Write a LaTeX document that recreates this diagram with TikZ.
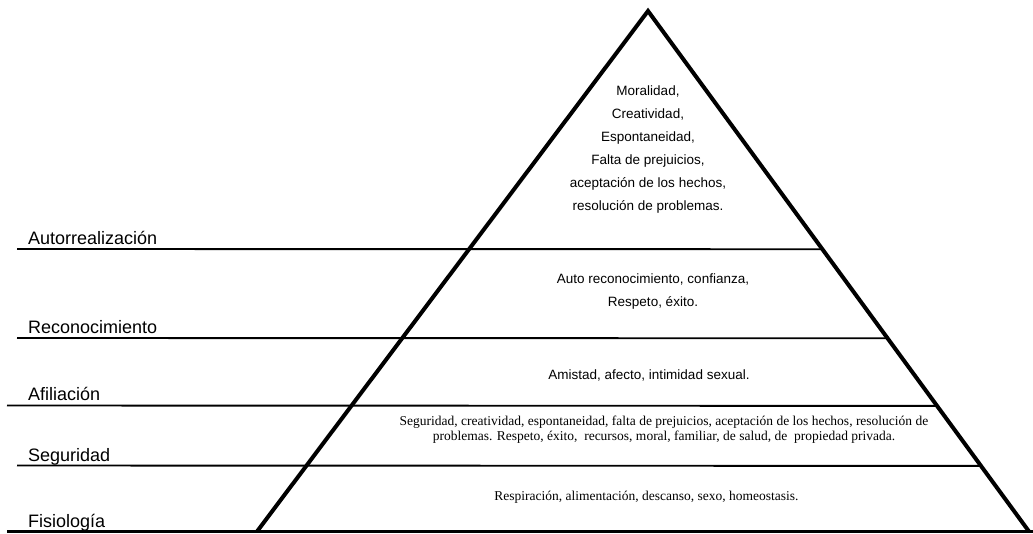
\documentclass[tikz,border=0pt]{standalone}
\usepackage{fontspec}
\setmainfont{Liberation Sans}
\newfontfamily\serifrm{Liberation Serif}
\usetikzlibrary{calc}
\begin{document}
\begin{tikzpicture}[x=1pt,y=-1pt,
  level/.style={anchor=base west, inner sep=0pt, font=\fontsize{18}{22}\selectfont},
  innertext/.style={align=center, inner sep=0pt, font=\fontsize{13.5}{23}\selectfont},
  serifnote/.style={align=center, inner sep=0pt, font=\serifrm\fontsize{13.5}{15}\selectfont},
  hline/.style={line width=1.9pt},
  side/.style={line width=4pt, line join=miter}]
\useasboundingbox (0,0) rectangle (1033,534);
\coordinate (apex) at (648,11);
\coordinate (bl) at (257,531.5);
\coordinate (br) at (1029,531.5);

% level lines
\coordinate (l1) at (17,249);
\coordinate (l2) at (17,338);
\coordinate (l3) at (7,405.5);
\coordinate (l4) at (17,465.5);
\coordinate (l5) at (7,531.5);
\coordinate (r1) at ($(apex)!0.4577!(br)$);
\coordinate (r2) at ($(apex)!0.6288!(br)$);
\coordinate (r3) at ($(apex)!0.7587!(br)$);
\coordinate (r4) at ($(apex)!0.8740!(br)$);
\coordinate (r5) at (1033,531.5);
\draw[hline] (l1) -- (r1);
\draw[hline] (l2) -- (r2);
\draw[hline] (l3) -- (r3);
\draw[hline] (l4) -- (r4);
\draw[line width=2.8pt] (l5) -- (r5);

% pyramid sides
\draw[side] (bl) -- (apex) -- (br);

% level labels
\node[level] (lab1) at (28,245) {Autorrealización};
\node[level] (lab2) at (28,334) {Reconocimiento};
\node[level] (lab3) at (28,400.5) {Afiliación};
\node[level] (lab4) at (28,461) {Seguridad};
\node[level] (lab5) at (28,527) {Fisiología};

% contents
\node[innertext] (t1) at (648,150) {Moralidad,\\Creatividad,\\Espontaneidad,\\Falta de prejuicios,\\aceptación de los hechos,\\resolución de problemas.};
\node[innertext] (t2) at (653,292) {Auto reconocimiento, confianza,\\Respeto, éxito.};
\node[innertext] (t3) at (649,375) {Amistad, afecto, intimidad sexual.};
\node[serifnote] (t4) at (664,430) {Seguridad, creatividad, espontaneidad, falta de prejuicios, aceptación de los hechos, resolución de\\problemas. Respeto, éxito, \ recursos, moral, familiar, de salud, de \ propiedad privada.};
\node[serifnote] (t5) at (646.5,497) {Respiración, alimentación, descanso, sexo, homeostasis.};
\end{tikzpicture}
\end{document}
